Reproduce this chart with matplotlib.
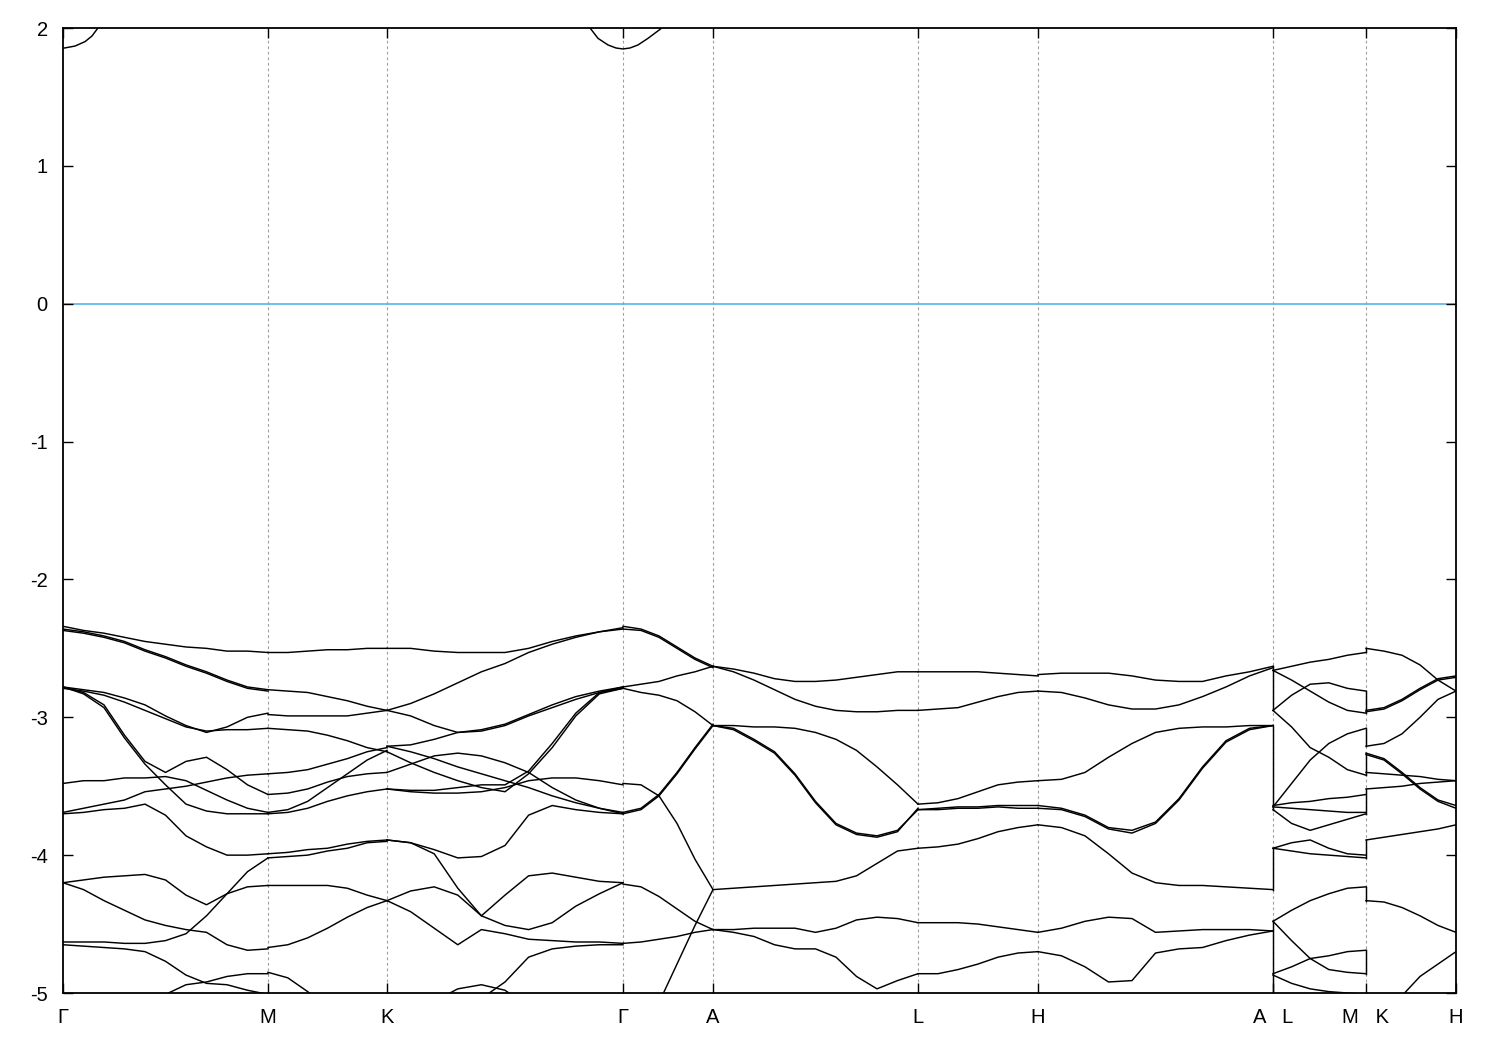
import numpy as np
import matplotlib
matplotlib.use('Agg')
import matplotlib.pyplot as plt

plt.rcParams['font.family'] = ['Liberation Sans', 'DejaVu Sans']
plt.rcParams['axes.unicode_minus'] = False

# high-symmetry points (path coordinate) and labels
tick_pos = [0.0, 2.05, 3.24, 5.60, 6.50, 8.55, 9.75, 12.10, 13.03, 13.93]
tick_labels = ['Γ', 'M', 'K', 'Γ', 'A', 'L', 'H', 'A   L', 'M   K', 'H']

# ---- band energies (eV) sampled uniformly along each segment ----
bands_GM = [
    [-2.34, -2.37, -2.39, -2.42, -2.45, -2.47, -2.49, -2.50, -2.52, -2.52, -2.53],
    [-2.36, -2.38, -2.41, -2.45, -2.51, -2.56, -2.62, -2.67, -2.73, -2.78, -2.80],
    [-2.37, -2.39, -2.42, -2.46, -2.52, -2.57, -2.63, -2.68, -2.74, -2.79, -2.81],
    [-2.78, -2.80, -2.82, -2.86, -2.91, -2.99, -3.06, -3.11, -3.07, -3.00, -2.97],
    [-2.79, -2.81, -2.84, -2.89, -2.95, -3.01, -3.07, -3.10, -3.09, -3.09, -3.08],
    [-2.78, -2.82, -2.91, -3.13, -3.32, -3.40, -3.32, -3.29, -3.38, -3.49, -3.56],
    [-2.78, -2.83, -2.93, -3.15, -3.34, -3.49, -3.63, -3.68, -3.70, -3.70, -3.70],
    [-3.48, -3.46, -3.46, -3.44, -3.44, -3.43, -3.46, -3.53, -3.60, -3.66, -3.69],
    [-3.69, -3.66, -3.63, -3.60, -3.54, -3.52, -3.50, -3.47, -3.44, -3.42, -3.41],
    [-3.70, -3.69, -3.67, -3.66, -3.63, -3.71, -3.86, -3.94, -4.00, -4.00, -3.99],
    [-4.20, -4.18, -4.16, -4.15, -4.14, -4.18, -4.29, -4.36, -4.28, -4.23, -4.22],
    [-4.20, -4.25, -4.33, -4.40, -4.47, -4.51, -4.54, -4.56, -4.65, -4.69, -4.68],
    [-4.63, -4.63, -4.63, -4.64, -4.64, -4.62, -4.57, -4.44, -4.28, -4.12, -4.02],
    [-4.65, -4.66, -4.67, -4.68, -4.70, -4.77, -4.87, -4.93, -4.94, -4.98, -5.01],
    [-5.49, -5.38, -5.27, -5.18, -5.09, -5.01, -4.94, -4.92, -4.88, -4.86, -4.86],
]
bands_MK = [
    [-2.53, -2.53, -2.52, -2.51, -2.51, -2.50, -2.50],
    [-2.80, -2.81, -2.82, -2.85, -2.88, -2.92, -2.95],
    [-2.98, -2.99, -2.99, -2.99, -2.99, -2.97, -2.95],
    [-3.08, -3.09, -3.10, -3.13, -3.17, -3.22, -3.25],
    [-3.41, -3.40, -3.38, -3.34, -3.30, -3.25, -3.22],
    [-3.56, -3.55, -3.52, -3.47, -3.43, -3.41, -3.40],
    [-3.69, -3.67, -3.61, -3.51, -3.41, -3.31, -3.24],
    [-3.70, -3.69, -3.66, -3.61, -3.57, -3.54, -3.52],
    [-3.99, -3.98, -3.96, -3.95, -3.92, -3.90, -3.89],
    [-4.02, -4.01, -4.00, -3.97, -3.95, -3.91, -3.90],
    [-4.22, -4.22, -4.22, -4.22, -4.24, -4.29, -4.33],
    [-4.67, -4.65, -4.60, -4.53, -4.45, -4.38, -4.33],
    [-4.85, -4.89, -4.99, -5.10, -5.20, -5.30, -5.40],
]
bands_KG = [
    [-2.50, -2.50, -2.52, -2.53, -2.53, -2.53, -2.50, -2.45, -2.41, -2.38, -2.35],
    [-2.95, -2.90, -2.83, -2.75, -2.67, -2.61, -2.53, -2.47, -2.42, -2.38, -2.36],
    [-2.95, -2.99, -3.06, -3.11, -3.10, -3.06, -2.99, -2.93, -2.87, -2.82, -2.79],
    [-3.21, -3.20, -3.16, -3.11, -3.09, -3.05, -2.98, -2.91, -2.85, -2.81, -2.78],
    [-3.21, -3.25, -3.30, -3.36, -3.41, -3.46, -3.51, -3.57, -3.62, -3.66, -3.69],
    [-3.40, -3.34, -3.28, -3.26, -3.28, -3.33, -3.40, -3.51, -3.60, -3.66, -3.70],
    [-3.52, -3.54, -3.55, -3.55, -3.54, -3.51, -3.46, -3.44, -3.44, -3.46, -3.49],
    [-3.25, -3.33, -3.40, -3.46, -3.51, -3.54, -3.41, -3.22, -2.99, -2.83, -2.79],
    [-3.52, -3.53, -3.53, -3.51, -3.49, -3.49, -3.39, -3.19, -2.97, -2.82, -2.78],
    [-4.33, -4.26, -4.23, -4.29, -4.44, -4.29, -4.15, -4.13, -4.16, -4.19, -4.20],
    [-3.89, -3.91, -3.99, -4.24, -4.44, -4.51, -4.54, -4.49, -4.37, -4.28, -4.20],
    [-3.89, -3.91, -3.96, -4.02, -4.01, -3.93, -3.71, -3.64, -3.67, -3.69, -3.70],
    [-4.33, -4.41, -4.53, -4.65, -4.54, -4.57, -4.61, -4.62, -4.63, -4.63, -4.64],
    [-5.40, -5.30, -5.20, -5.12, -5.04, -4.92, -4.74, -4.68, -4.66, -4.65, -4.65],
    [-5.40, -5.20, -5.06, -4.97, -4.94, -4.98, -5.10, -5.25, -5.40, -5.55, -5.70],
]
bands_GA = [
    [-2.34, -2.36, -2.41, -2.49, -2.57, -2.63],
    [-2.36, -2.37, -2.42, -2.50, -2.58, -2.64],
    [-2.78, -2.76, -2.74, -2.70, -2.67, -2.63],
    [-2.79, -2.82, -2.84, -2.88, -2.96, -3.06],
    [-3.70, -3.67, -3.57, -3.41, -3.23, -3.06],
    [-3.69, -3.66, -3.56, -3.40, -3.22, -3.05],
    [-3.48, -3.49, -3.57, -3.77, -4.03, -4.25],
    [-4.21, -4.23, -4.30, -4.39, -4.48, -4.54],
    [-4.64, -4.63, -4.61, -4.59, -4.56, -4.54],
    [-5.61, -5.34, -5.07, -4.79, -4.51, -4.25],
]
bands_AL = [
    [-2.63, -2.65, -2.68, -2.72, -2.74, -2.74, -2.73, -2.71, -2.69, -2.67, -2.67],
    [-2.63, -2.67, -2.73, -2.80, -2.87, -2.92, -2.95, -2.96, -2.96, -2.95, -2.95],
    [-3.06, -3.06, -3.07, -3.07, -3.08, -3.11, -3.16, -3.24, -3.36, -3.49, -3.63],
    [-3.06, -3.08, -3.16, -3.25, -3.41, -3.61, -3.77, -3.84, -3.86, -3.82, -3.67],
    [-3.06, -3.09, -3.17, -3.26, -3.42, -3.62, -3.78, -3.85, -3.87, -3.83, -3.66],
    [-4.25, -4.24, -4.23, -4.22, -4.21, -4.20, -4.19, -4.15, -4.06, -3.97, -3.95],
    [-4.54, -4.54, -4.53, -4.53, -4.53, -4.56, -4.53, -4.47, -4.45, -4.46, -4.49],
    [-4.54, -4.56, -4.59, -4.65, -4.68, -4.68, -4.74, -4.88, -4.97, -4.91, -4.86],
]
bands_LH = [
    [-2.67, -2.67, -2.67, -2.67, -2.68, -2.69, -2.70],
    [-2.95, -2.94, -2.93, -2.89, -2.85, -2.82, -2.81],
    [-3.63, -3.62, -3.59, -3.54, -3.49, -3.47, -3.46],
    [-3.67, -3.66, -3.65, -3.65, -3.64, -3.64, -3.64],
    [-3.67, -3.67, -3.66, -3.66, -3.65, -3.66, -3.66],
    [-3.95, -3.94, -3.92, -3.88, -3.83, -3.80, -3.78],
    [-4.49, -4.49, -4.49, -4.50, -4.52, -4.54, -4.56],
    [-4.86, -4.86, -4.83, -4.79, -4.74, -4.71, -4.70],
]
bands_HA = [
    [-2.69, -2.68, -2.68, -2.68, -2.70, -2.73, -2.74, -2.74, -2.70, -2.67, -2.63],
    [-2.81, -2.82, -2.86, -2.91, -2.94, -2.94, -2.91, -2.85, -2.78, -2.70, -2.64],
    [-3.46, -3.45, -3.40, -3.29, -3.19, -3.11, -3.08, -3.07, -3.07, -3.06, -3.06],
    [-3.64, -3.66, -3.71, -3.80, -3.82, -3.76, -3.59, -3.36, -3.17, -3.08, -3.06],
    [-3.66, -3.67, -3.72, -3.81, -3.84, -3.77, -3.60, -3.37, -3.18, -3.09, -3.06],
    [-3.78, -3.80, -3.86, -3.99, -4.13, -4.20, -4.22, -4.22, -4.23, -4.24, -4.25],
    [-4.56, -4.53, -4.48, -4.45, -4.46, -4.56, -4.55, -4.54, -4.54, -4.54, -4.55],
    [-4.70, -4.73, -4.81, -4.92, -4.91, -4.71, -4.68, -4.67, -4.62, -4.58, -4.55],
]
bands_LM = [
    [-2.66, -2.63, -2.60, -2.58, -2.55, -2.53],
    [-2.66, -2.73, -2.81, -2.89, -2.95, -2.97],
    [-2.95, -2.84, -2.76, -2.75, -2.79, -2.81],
    [-2.95, -3.07, -3.22, -3.29, -3.38, -3.42],
    [-3.65, -3.48, -3.31, -3.19, -3.12, -3.08],
    [-3.64, -3.62, -3.61, -3.59, -3.58, -3.56],
    [-3.65, -3.66, -3.67, -3.68, -3.69, -3.69],
    [-3.67, -3.77, -3.82, -3.78, -3.74, -3.70],
    [-3.95, -3.91, -3.89, -3.95, -3.99, -4.00],
    [-3.95, -3.97, -3.99, -4.00, -4.01, -4.02],
    [-4.48, -4.40, -4.33, -4.28, -4.24, -4.23],
    [-4.48, -4.62, -4.75, -4.83, -4.85, -4.86],
    [-4.86, -4.81, -4.75, -4.73, -4.70, -4.69],
    [-4.87, -4.93, -4.97, -4.99, -5.00, -5.01],
]
bands_KH = [
    [-2.50, -2.52, -2.55, -2.62, -2.73, -2.81],
    [-2.95, -2.93, -2.87, -2.79, -2.72, -2.70],
    [-2.96, -2.94, -2.88, -2.80, -2.73, -2.71],
    [-3.21, -3.19, -3.12, -3.00, -2.87, -2.81],
    [-3.26, -3.30, -3.40, -3.51, -3.60, -3.64],
    [-3.27, -3.31, -3.41, -3.52, -3.61, -3.66],
    [-3.40, -3.41, -3.42, -3.43, -3.45, -3.46],
    [-3.52, -3.51, -3.50, -3.48, -3.47, -3.46],
    [-3.89, -3.87, -3.85, -3.83, -3.81, -3.78],
    [-4.33, -4.34, -4.38, -4.44, -4.51, -4.56],
    [-5.30, -5.15, -5.02, -4.88, -4.79, -4.70],
]

# conduction band pieces near the top edge
cb1_k = [0.00, 0.12, 0.22, 0.29, 0.34, 0.36]
cb1_E = [1.853, 1.869, 1.901, 1.942, 1.991, 2.01]
cb2_k = [5.26, 5.35, 5.45, 5.53, 5.60, 5.67, 5.75, 5.85, 5.97, 6.00]
cb2_E = [2.01, 1.925, 1.877, 1.855, 1.848, 1.855, 1.877, 1.925, 1.99, 2.01]

# energies joined by vertical steps at the path discontinuities
jump_AL_from = [-2.63, -3.06, -4.25, -4.48]
jump_AL_to = [-2.95, -3.67, -3.95, -5.10]
jump_MK_from = [-2.53, -2.81, -3.08, -3.26, -3.52, -3.89, -4.23, -4.69]
jump_MK_to = [-2.50, -2.97, -3.21, -3.42, -3.70, -4.02, -4.33, -4.86]

segments = [
    (0, 1, bands_GM), (1, 2, bands_MK), (2, 3, bands_KG), (3, 4, bands_GA),
    (4, 5, bands_AL), (5, 6, bands_LH), (6, 7, bands_HA), (7, 8, bands_LM),
    (8, 9, bands_KH),
]

fig = plt.figure(figsize=(15, 10.5), dpi=100)
ax = fig.add_axes([63 / 1500, 57 / 1050, (1456 - 63) / 1500, (993 - 28) / 1050])

band_kw = dict(color='black', lw=1.05, solid_joinstyle='round')
for i0, i1, bands in segments:
    for E in bands:
        k = np.linspace(tick_pos[i0], tick_pos[i1], len(E))
        ax.plot(k, E, **band_kw)

ax.plot(cb1_k, cb1_E, **band_kw)
ax.plot(cb2_k, cb2_E, **band_kw)
for a, b in zip(jump_AL_from, jump_AL_to):
    ax.plot([tick_pos[7], tick_pos[7]], [a, b], **band_kw)
for a, b in zip(jump_MK_from, jump_MK_to):
    ax.plot([tick_pos[8], tick_pos[8]], [a, b], **band_kw)

ax.axhline(0.0, color='#56b4e9', lw=1.2, zorder=1)
for x in tick_pos[1:-1]:
    ax.axvline(x, color='#a0a0a0', lw=0.8, ls=(0, (2.5, 2.5)), zorder=0)

ax.set_xlim(tick_pos[0], tick_pos[-1])
ax.set_ylim(-5, 2)
ax.set_xticks(tick_pos)
ax.set_xticklabels(tick_labels)
ax.set_yticks(np.arange(-5, 3, 1))
ax.tick_params(direction='in', length=7.5, width=1.0, top=True, right=True,
               labelsize=14.5, pad=11)
for s in ax.spines.values():
    s.set_linewidth(1.3)

fig.savefig('out.png', dpi=100)
